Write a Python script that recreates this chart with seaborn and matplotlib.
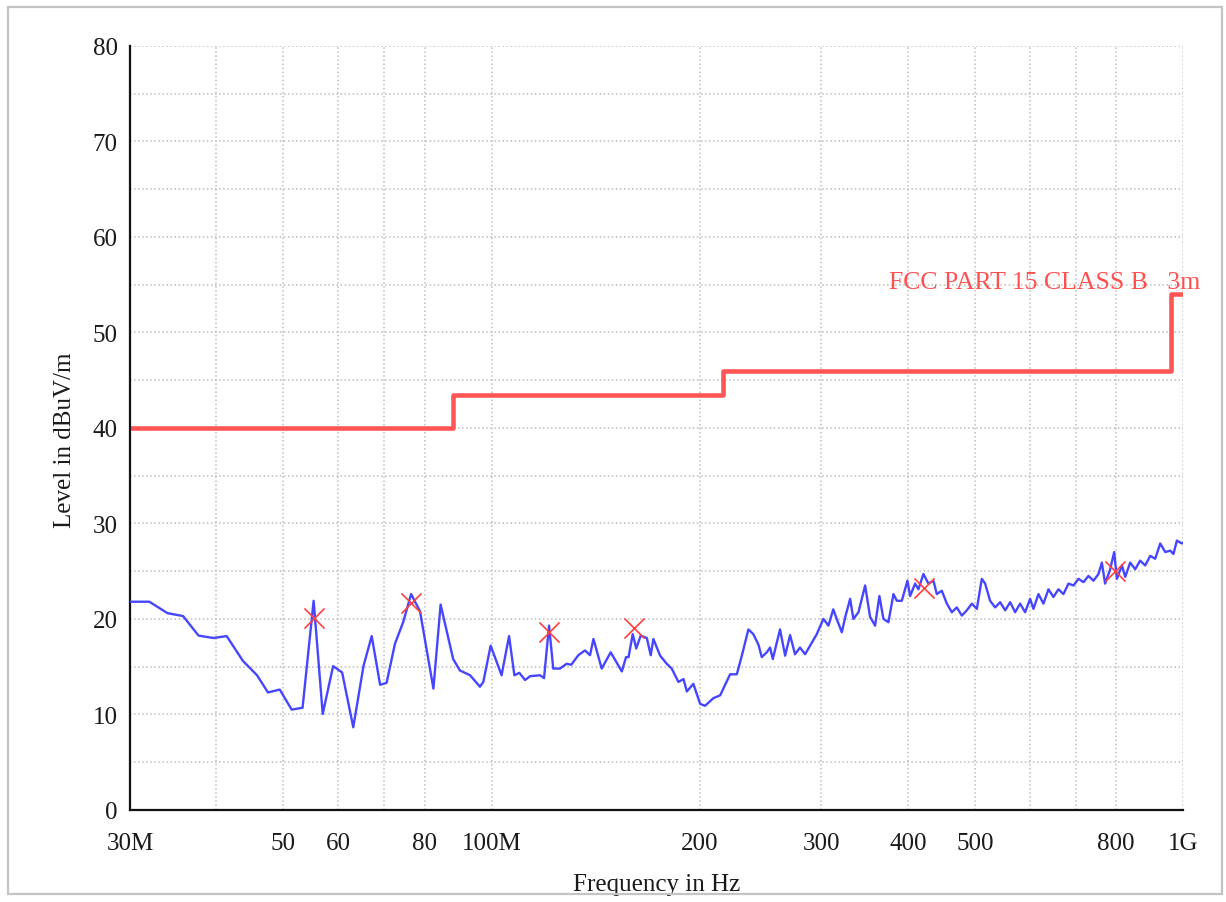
import numpy as np
import pandas as pd
import seaborn as sns
import matplotlib.pyplot as plt
from matplotlib.ticker import MultipleLocator, NullLocator
from matplotlib.patches import Rectangle

freq_mhz = [
    30.0, 32.0, 34.0, 35.8, 37.7, 39.6, 41.4, 43.7, 45.8, 47.5, 49.4, 51.4,
    53.3, 55.3, 57.0, 59.0, 60.8, 63.1, 65.3, 67.1, 69.0, 70.5, 72.5, 74.5,
    76.5, 78.8, 82.4, 84.4, 88.0, 90.0, 93.1, 96.2, 97.3, 99.7, 103.4, 106.0,
    107.9, 109.7, 111.8, 113.7, 117.5, 119.1, 121.1, 122.8, 125.6, 128.4,
    130.4, 133.5, 136.5, 138.8, 140.4, 144.3, 148.7, 154.3, 156.5, 157.8,
    160.0, 161.9, 164.3, 167.7, 169.9, 171.4, 175.3, 179.2, 182.2, 186.3,
    189.5, 191.6, 195.8, 200.3, 203.6, 209.3, 214.1, 221.3, 226.3, 230.1,
    235.2, 239.1, 243.2, 245.9, 250.0, 252.8, 255.1, 261.3, 265.8, 270.2,
    274.7, 279.3, 284.1, 288.8, 295.3, 301.9, 307.0, 312.0, 315.6, 321.0,
    324.7, 330.0, 333.6, 339.3, 346.9, 352.7, 358.6, 363.8, 368.7, 374.9,
    381.2, 385.5, 392.0, 399.4, 403.0, 409.7, 414.2, 421.2, 428.3, 435.5,
    440.4, 447.8, 455.4, 463.0, 470.7, 478.7, 486.7, 495.0, 503.2, 511.6,
    517.3, 525.9, 534.8, 543.8, 553.0, 562.3, 571.6, 581.2, 591.0, 600.9,
    607.6, 617.8, 628.2, 638.7, 649.4, 660.3, 671.5, 682.8, 694.3, 706.0,
    717.8, 729.7, 742.0, 754.5, 763.0, 771.3, 784.4, 795.0, 802.2, 815.7,
    824.7, 838.5, 852.6, 866.7, 881.4, 896.4, 911.4, 926.7, 942.3, 958.2,
    968.4, 979.5, 995.7, 1000.0,
]
level_db = [
    21.8, 21.8, 20.6, 20.3, 18.25, 18.0, 18.2, 15.6, 14.1, 12.3, 12.6, 10.5,
    10.7, 21.9, 10.05, 15.05, 14.4, 8.65, 15.1, 18.2, 13.1, 13.3, 17.4, 19.65,
    22.6, 20.8, 12.7, 21.5, 15.8, 14.6, 14.1, 12.9, 13.4, 17.2, 14.1, 18.2,
    14.1, 14.35, 13.6, 14.0, 14.1, 13.8, 19.3, 14.8, 14.8, 15.3,
    15.2, 16.2, 16.7, 16.2, 17.9, 14.8, 16.5, 14.5, 16.0, 16.0,
    18.4, 16.9, 18.25, 18.0, 16.2, 17.9, 16.15, 15.3, 14.8, 13.4,
    13.7, 12.4, 13.2, 11.1, 10.9, 11.7, 12.0, 14.2, 14.2, 16.15,
    18.9, 18.4, 17.3, 16.0, 16.5, 17.0, 15.8, 18.9, 16.15, 18.3,
    16.3, 17.0, 16.3, 17.2, 18.4, 20.0, 19.3, 21.0, 20.0, 18.6,
    20.2, 22.1, 20.0, 20.7, 23.5, 20.2, 19.3, 22.4, 20.0, 19.65,
    22.6, 21.9, 21.9, 24.0, 22.4, 23.7, 23.1, 24.7, 23.7, 24.0,
    22.6, 22.95, 21.6, 20.7, 21.2, 20.35, 20.9, 21.6, 21.05, 24.2,
    23.7, 21.9, 21.2, 21.75, 20.9, 21.75, 20.7, 21.6, 20.7, 22.1,
    21.05, 22.6, 21.6, 23.1, 22.3, 23.1, 22.6, 23.7, 23.5, 24.2,
    23.85, 24.5, 24.0, 24.7, 25.9, 23.7, 25.2, 27.0, 24.2, 25.6,
    24.4, 25.9, 25.2, 26.1, 25.6, 26.6, 26.3, 27.9, 27.0, 27.15,
    26.8, 28.2, 27.9, 28.0,
]

# final measurement points
peak_freq = [55.4, 76.5, 121.0, 160.7, 422.0, 797.0]
peak_level = [20.1, 21.7, 18.6, 19.0, 23.2, 25.0]

# FCC part 15 class B limit, 3 m
limit_freq = [30, 88, 216, 960, 1000]
limit_level = [40, 43.5, 46, 54, 54]
limit_name = 'FCC PART 15 CLASS B   3m'

xtick_vals = [30, 40, 50, 60, 70, 80, 100, 200, 300, 400, 500, 600, 700, 800, 1000]
xtick_labels = ['30M', '', '50', '60', '', '80', '100M', '200', '300', '400',
                '500', '', '', '800', '1G']
ytick_vals = list(range(0, 81, 10))

sns.set_theme(style='white')
plt.rcParams['font.family'] = ['Liberation Serif', 'DejaVu Serif']

fig = plt.figure(figsize=(12.26, 9.03), dpi=100)
ax = fig.add_axes([0.106, 0.102, 0.859, 0.846])

trace = pd.DataFrame({'freq': freq_mhz, 'level': level_db})
sns.lineplot(data=trace, x='freq', y='level', ax=ax, color='#4646ff',
             linewidth=1.7, zorder=3)
sns.lineplot(x=limit_freq, y=limit_level, ax=ax, color='#ff5555',
             linewidth=3.3, drawstyle='steps-post', zorder=2)
sns.scatterplot(x=peak_freq, y=peak_level, ax=ax, marker='x', s=210,
                color='#ff4040', linewidth=1.2, zorder=4)

ax.text(375, 55.3, limit_name, color='#ff5050', fontsize=18.5,
        ha='left', va='center')

ax.set_xscale('log')
ax.set_xlim(30, 1000)
ax.set_ylim(0, 80)
ax.set_xticks(xtick_vals)
ax.set_xticklabels(xtick_labels)
ax.xaxis.set_minor_locator(NullLocator())
ax.set_yticks(ytick_vals)
ax.yaxis.set_minor_locator(MultipleLocator(5))

ax.grid(which='both', color='#bdbdbd', linestyle=':', linewidth=1.1)
ax.set_axisbelow(True)

for s in ['top', 'right']:
    ax.spines[s].set_visible(False)
for s in ['left', 'bottom']:
    ax.spines[s].set_color('#111111')
    ax.spines[s].set_linewidth(1.6)

ax.tick_params(which='both', direction='inout', length=11.5, width=1.3,
               color='#111111', labelsize=18, labelcolor='#1a1a1a')
ax.tick_params(axis='y', pad=3)
ax.tick_params(axis='x', pad=10)

ax.set_xlabel('Frequency in Hz', fontsize=18, color='#1a1a1a')
ax.set_ylabel('Level in dBuV/m', fontsize=18, color='#1a1a1a')
ax.xaxis.set_label_coords(0.5, -0.097)
ax.xaxis.label.set_va('center')
ax.yaxis.set_label_coords(-0.062, 0.485)
ax.yaxis.label.set_va('center')

# grey frame around the whole picture
fig.add_artist(Rectangle((8 / 1226, 1 - 895 / 903), 1214 / 1226, 887 / 903,
                         transform=fig.transFigure, fill=False,
                         edgecolor='#c4c4c4', linewidth=1.6))

fig.savefig('out.png', dpi=100)
